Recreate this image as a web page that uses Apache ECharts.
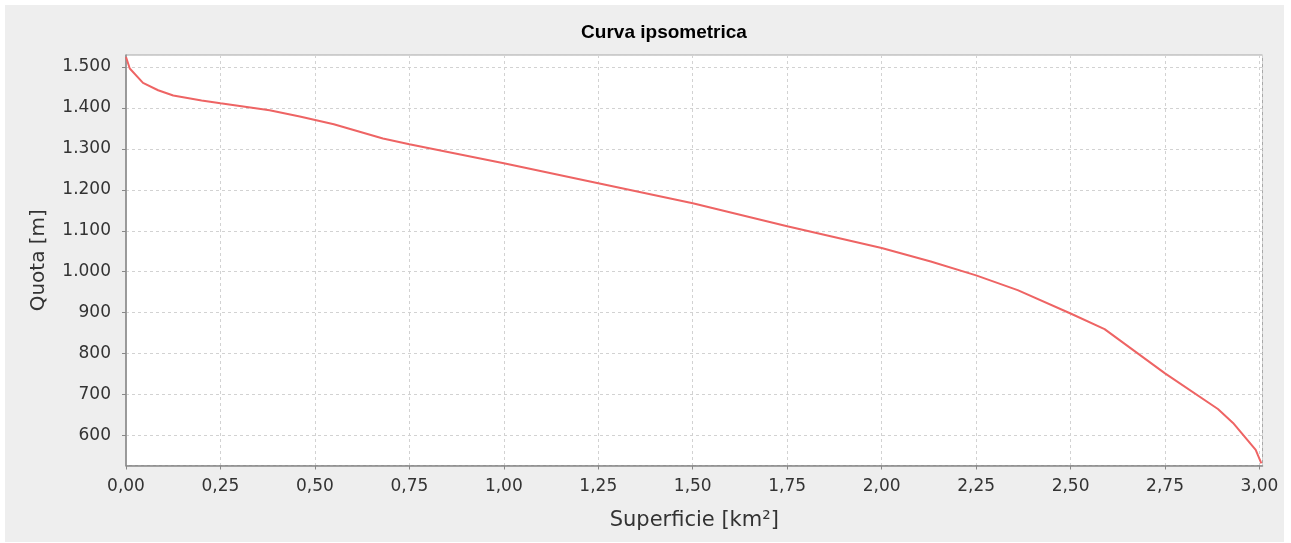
<!DOCTYPE html>
<html>
<head>
<meta charset="utf-8">
<script src="https://cdn.jsdelivr.net/npm/echarts@6/dist/echarts.min.js"></script>
<style>
  html, body { margin: 0; padding: 0; background: #fff; }
  #chart { position: absolute; left: 5px; top: 5px; width: 1279px; height: 537px; }
</style>
</head>
<body>
<div id="chart"></div>
<script>
// superficie cumulata [km²] e quota [m]
const superficie = [0, 0.01, 0.045, 0.085, 0.125, 0.2, 0.25, 0.38, 0.46, 0.55, 0.68, 0.75,
  1.0, 1.25, 1.5, 1.75, 2.0, 2.13, 2.25, 2.36, 2.5, 2.59, 2.75, 2.89, 2.93, 2.99, 3.005];
const quota = [1524, 1496, 1461, 1443, 1430, 1418, 1411, 1394, 1379, 1360, 1325, 1311,
  1265, 1216, 1167, 1111, 1058, 1025, 991, 955, 898, 860, 752, 665, 631, 565, 532];

const titolo = "Curva ipsometrica";
const nomeX = "Superficie [km²]";
const nomeY = "Quota [m]";

const FONT = "DejaVu Sans";

function fmtQuota(v) {
  if (v >= 1000) {
    return Math.floor(v / 1000) + "." + String(v % 1000).padStart(3, "0");
  }
  return String(v);
}

let chart = echarts.init(document.getElementById("chart"));
let option = {
  backgroundColor: "#eeeeee",
  animation: false,
  title: {
    text: titolo,
    left: 654,
    top: 13,
    textAlign: "center",
    textStyle: {
      fontFamily: "Liberation Sans",
      fontSize: 19,
      fontWeight: "bold",
      color: "#000"
    }
  },
  grid: {
    left: 121,
    top: 50,
    width: 1136.5,
    height: 410.5,
    show: true,
    backgroundColor: "#fff",
    borderColor: "#a8a8a8",
    borderWidth: 1
  },
  xAxis: {
    type: "value",
    min: 0,
    max: 3.008,
    interval: 0.25,
    name: nomeX,
    nameLocation: "middle",
    nameGap: 45,
    nameTextStyle: { fontFamily: FONT, fontSize: 21, color: "#333" },
    axisLine: { show: true, lineStyle: { color: "#888", width: 1.5 } },
    axisTick: { show: true, length: 4, lineStyle: { color: "#888" } },
    axisLabel: {
      fontFamily: FONT,
      fontSize: 17,
      color: "#333",
      margin: 13,
      showMaxLabel: false,
      formatter: function (v) {
        return v.toFixed(2).replace(".", ",");
      }
    },
    splitLine: {
      show: true,
      lineStyle: { color: "#d2d2d2", type: [3, 3], width: 1 }
    }
  },
  yAxis: {
    type: "value",
    min: 527,
    max: 1529,
    splitNumber: 10,
    minInterval: 100,
    maxInterval: 100,
    name: nomeY,
    nameLocation: "middle",
    nameGap: 77,
    nameTextStyle: { fontFamily: FONT, fontSize: 20, color: "#333" },
    axisLine: { show: true, lineStyle: { color: "#888", width: 1.5 } },
    axisTick: { show: true, length: 4, lineStyle: { color: "#888" } },
    axisLabel: {
      fontFamily: FONT,
      fontSize: 17,
      color: "#333",
      margin: 15,
      showMinLabel: false,
      showMaxLabel: false,
      formatter: fmtQuota
    },
    splitLine: {
      show: true,
      lineStyle: { color: "#d2d2d2", type: [3, 3], width: 1 }
    }
  },
  series: [
    {
      name: "Curva ipsometrica",
      type: "line",
      showSymbol: false,
      smooth: false,
      lineStyle: { color: "#ee6464", width: 2 },
      data: superficie.map((s, i) => [s, quota[i]])
    }
  ]
};
chart.setOption(option);
</script>
</body>
</html>
